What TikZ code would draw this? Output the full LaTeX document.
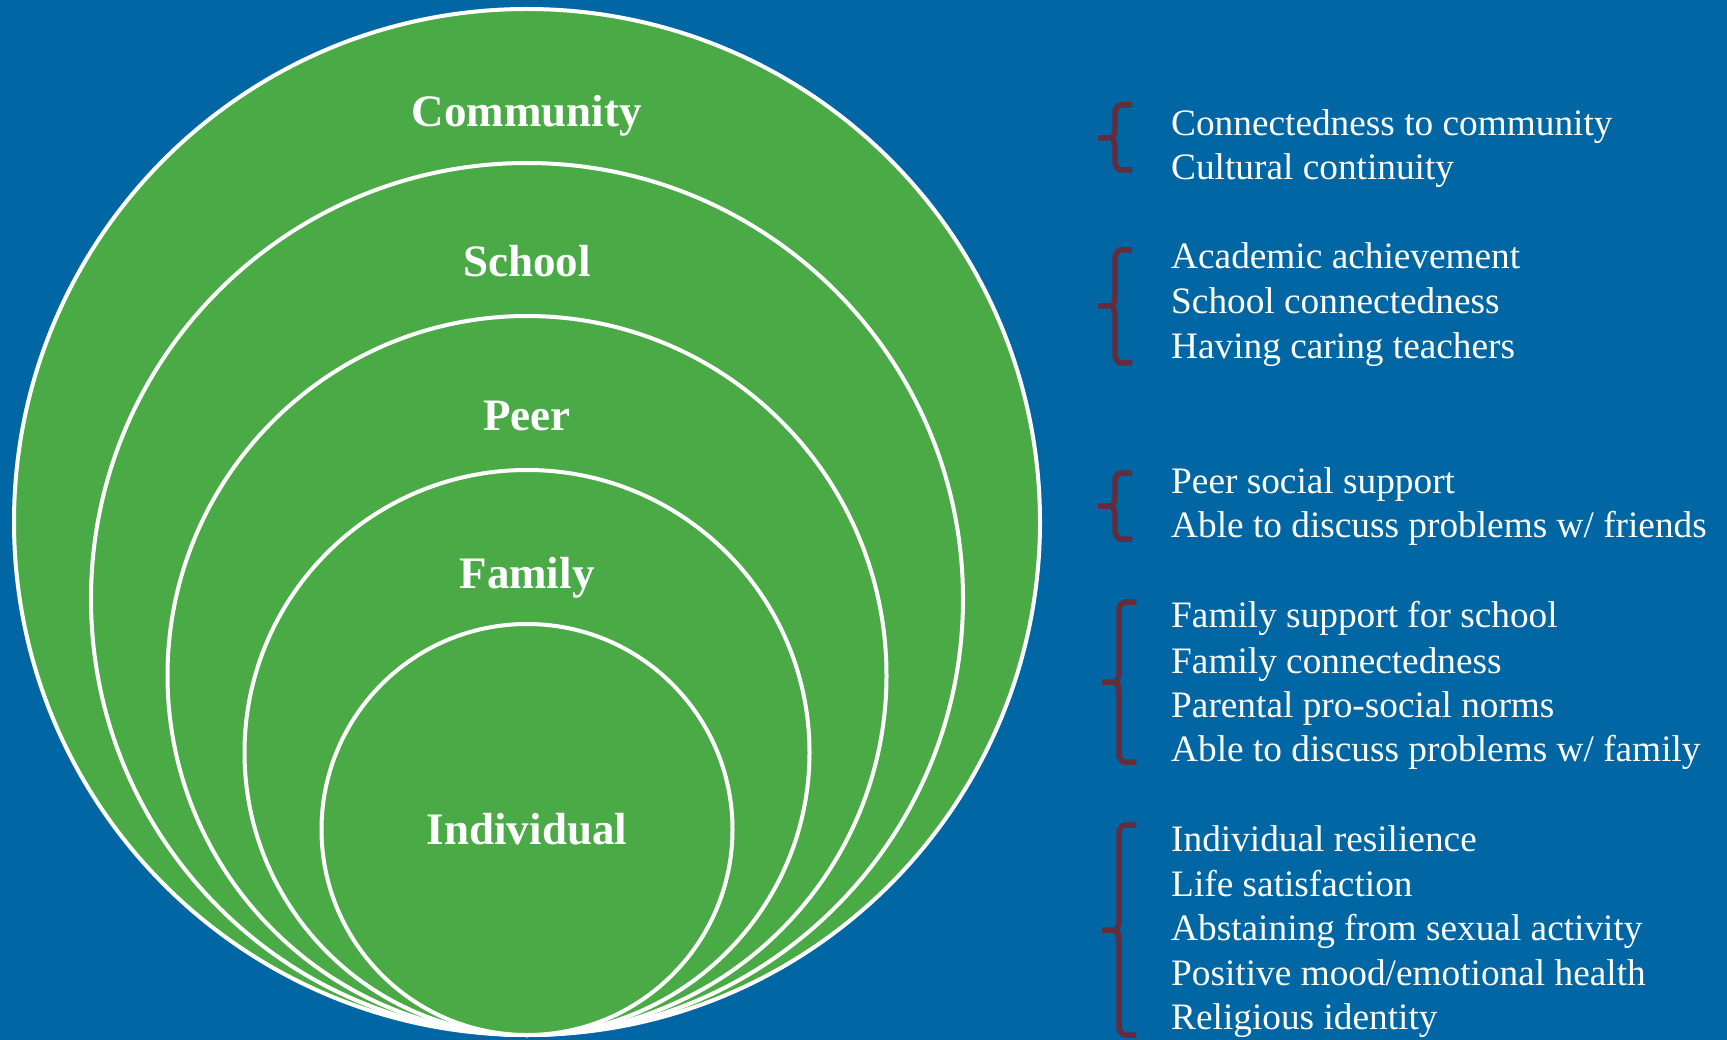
\documentclass[tikz,border=0pt]{standalone}
\usepackage{fontspec}
\setmainfont{Liberation Serif}
\definecolor{bgblue}{HTML}{0066A4}
\definecolor{ringgreen}{HTML}{4AAA46}
\definecolor{bracecol}{HTML}{652D3C}
\tikzset{ring/.style={fill=ringgreen,draw=white,line width=4pt},
 layer/.style={anchor=base,inner sep=0pt,text=white,font=\bfseries\fontsize{45}{54}\selectfont},
 item/.style={anchor=base west,inner sep=0pt,text=white,font=\fontsize{37.3}{44.8}\selectfont},
 bracket/.style={draw=bracecol,line width=5.5pt,line join=round}}
% #1 = top, #2 = tip, #3 = bottom, #4 = x of the spine
\newcommand\factorbrace[4]{%
 \draw[bracket] (#4+17,#1) -- (#4+5,#1) to[out=180,in=270] (#4,#1+5)
  -- (#4,#2-9) to[out=270,in=0] (#4-5,#2) -- (#4-17,#2)
  (#4-5,#2) to[out=0,in=90] (#4,#2+9) -- (#4,#3-5) to[out=90,in=180] (#4+5,#3) -- (#4+17,#3);}

\begin{document}
\begin{tikzpicture}[x=1pt,y=-1pt]
  \useasboundingbox (0,0) rectangle (1727,1040);
  \fill[bgblue] (0,0) rectangle (1727,1040);
  % nested circles, all touching at the bottom
  \foreach \r in {513,436,359.5,282.5,205.5}
  {\draw[ring] (527,{1035-\r}) circle[radius=\r pt];}
  \node[layer] (community) at (527,127) {Community};
  \node[layer] (school) at (527,277) {School};
  \node[layer] (peer) at (527,431) {Peer};
  \node[layer] (family) at (527,588) {Family};
  \node[layer] (individual) at (527,844) {Individual};
  % factors
  \foreach \y/\t [count=\i] in {135.5/Connectedness to community,179.5/Cultural continuity,
   268.7/Academic achievement,313.9/School connectedness,359/Having caring teachers,
   493.4/Peer social support,537.5/{Able to discuss problems w/ friends},
   627.8/Family support for school,673/Family connectedness,717/Parental pro-social norms,
   761/{Able to discuss problems w/ family},
   851.4/Individual resilience,896.5/Life satisfaction,940.6/Abstaining from sexual activity,
   985.7/{Positive mood/emotional health},1029.8/Religious identity}
  {\node[item] (f\i) at (1171,\y) {\t};}
  \factorbrace{105}{138}{170}{1115}
  \factorbrace{250}{306}{363}{1115}
  \factorbrace{473}{506}{539}{1115}
  \factorbrace{602}{682}{762}{1119}
  \factorbrace{825}{930}{1035}{1119}
\end{tikzpicture}
\end{document}
